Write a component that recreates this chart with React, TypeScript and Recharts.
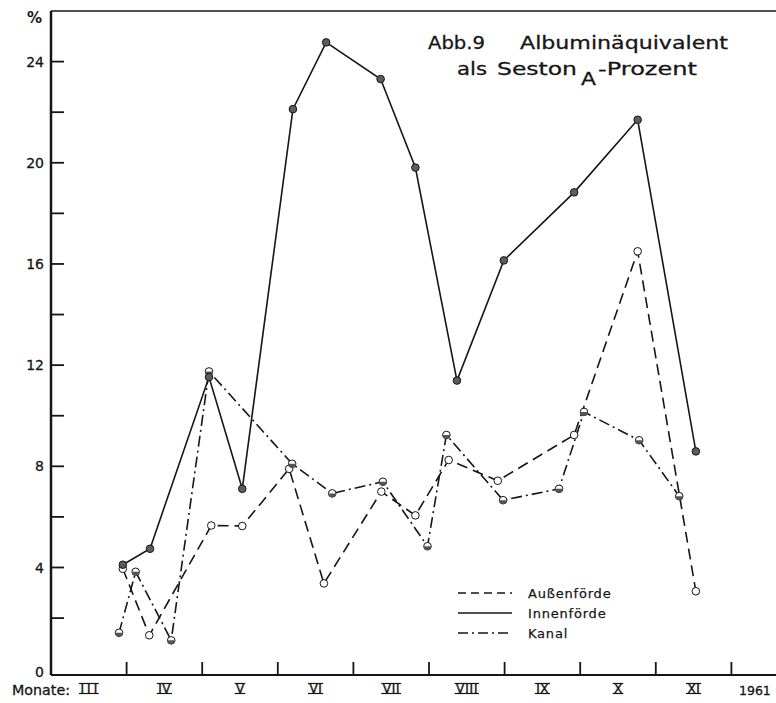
import React from 'react';
import { LineChart, Line, XAxis, YAxis, ReferenceLine, Legend } from 'recharts';

// Month labels (Roman numerals) along the time axis, March to November
const monthLabels = ['III', 'IV', 'V', 'VI', 'VII', 'VIII', 'IX', 'X', 'XI'];
const yearLabel = '1961';

// Value axis ticks (every 2 %), labelled every 4 %
const yTickValues = [0, 2, 4, 6, 8, 10, 12, 14, 16, 18, 20, 22, 24];

// Sampling dates, in months counted from 1 March, and values in %
const aussenX = [0.95, 1.3, 2.12, 2.53, 3.15, 3.61, 4.37, 4.82, 5.26, 5.91, 6.92, 7.76, 8.53];
const aussenY = [3.95, 1.32, 5.66, 5.64, 7.9, 3.37, 7.0, 6.06, 8.25, 7.43, 9.24, 16.5, 3.06];

const innenX = [0.95, 1.31, 2.09, 2.53, 3.2, 3.64, 4.36, 4.82, 5.37, 5.99, 6.92, 7.76, 8.53];
const innenY = [4.11, 4.74, 11.53, 7.11, 22.12, 24.76, 23.31, 19.81, 11.39, 16.14, 18.83, 21.7, 8.59];

const kanalX = [0.9, 1.12, 1.59, 2.09, 3.19, 3.72, 4.39, 4.98, 5.23, 5.98, 6.72, 7.05, 7.78, 8.31];
const kanalY = [1.42, 3.83, 1.12, 11.75, 8.1, 6.93, 7.39, 4.84, 9.24, 6.66, 7.11, 10.15, 9.03, 6.82];

const zip = (xs: number[], ys: number[]) => xs.map((x, i) => ({ x, y: ys[i] }));
const aussen = zip(aussenX, aussenY);
const innen = zip(innenX, innenY);
const kanal = zip(kanalX, kanalY);

const monthBoundaries = monthLabels.map((_, i) => i + 1);
const monthCenters = monthLabels.map((_, i) => i + 0.5);
const xTicks = [...monthCenters, ...monthBoundaries].sort((a, b) => a - b);

const INK = '#161616';
const FONT = '"DejaVu Sans", "Liberation Sans", sans-serif';

const styles = {
  aussen: { dash: '11 6', legendDash: '8 5', name: 'Außenförde' },
  innen: { dash: undefined as string | undefined, legendDash: undefined as string | undefined, name: 'Innenförde' },
  kanal: { dash: '11 4 2 4', legendDash: '10 4 2 4', name: 'Kanal' },
};

const ValueTick = (props: any) => {
  const { x, y, payload } = props;
  const v = payload.value as number;
  return (
    <g>
      {v !== 0 && <line x1={x} x2={x + 13} y1={y} y2={y} stroke={INK} strokeWidth={1.8} />}
      {v % 4 === 0 && (
        <text
          x={x - 7}
          y={v === 0 ? y + 3 : y}
          dy="0.36em"
          textAnchor="end"
          fontFamily={FONT}
          fontSize={14}
          fill={INK}
          stroke={INK}
          strokeWidth={0.3}
        >
          {v}
        </text>
      )}
    </g>
  );
};

const MonthTick = (props: any) => {
  const { x, y, payload } = props;
  const v = payload.value as number;
  if (Number.isInteger(v)) {
    return <line x1={x} x2={x} y1={y} y2={y - 13} stroke={INK} strokeWidth={1.8} />;
  }
  const label = monthLabels[Math.floor(v)];
  const w = 6 + 4.6 * label.length;
  return (
    <g>
      <line x1={x - w / 2} x2={x + w / 2} y1={y + 8.5} y2={y + 8.5} stroke={INK} strokeWidth={1.2} />
      <text
        x={x}
        y={y + 17.8}
        textAnchor="middle"
        fontFamily={FONT}
        fontSize={12}
        fill={INK}
        stroke={INK}
        strokeWidth={0.4}
        textLength={w - 3}
        lengthAdjust="spacing"
      >
        {label}
      </text>
      <line x1={x - w / 2} x2={x + w / 2} y1={y + 18.5} y2={y + 18.5} stroke={INK} strokeWidth={1.2} />
    </g>
  );
};

const makeDot = (kind: 'aussen' | 'innen' | 'kanal') => (props: any) => {
  const { cx, cy, index } = props;
  const r = 3.8;
  if (cx == null || cy == null) return <g key={`${kind}-${index}`} />;
  if (kind === 'kanal') {
    return (
      <g key={`${kind}-${index}`}>
        <circle cx={cx} cy={cy} r={r} fill="#fff" stroke={INK} strokeWidth={1} />
        <path d={`M${cx - r},${cy} A${r},${r} 0 0 0 ${cx + r},${cy} Z`} fill="#555" />
      </g>
    );
  }
  return (
    <circle
      key={`${kind}-${index}`}
      cx={cx}
      cy={cy}
      r={r}
      fill={kind === 'innen' ? '#5c5c5c' : '#fff'}
      stroke={INK}
      strokeWidth={1}
    />
  );
};

const LegendBox = () => {
  const rows = [styles.aussen, styles.innen, styles.kanal];
  return (
    <svg width={180} height={60} style={{ display: 'block' }}>
      {rows.map((s, i) => (
        <g key={s.name}>
          <line
            x1={3}
            x2={57}
            y1={10 + i * 20}
            y2={10 + i * 20}
            stroke={INK}
            strokeWidth={1.4}
            strokeDasharray={s.legendDash}
          />
          <text
            x={73}
            y={10 + i * 20}
            dy="0.36em"
            fontFamily={FONT}
            fontSize={13}
            letterSpacing={0.8}
            fill={INK}
            stroke={INK}
            strokeWidth={0.25}
          >
            {s.name}
          </text>
        </g>
      ))}
    </svg>
  );
};

export default function App() {
  return (
    <div
      style={{
        position: 'absolute',
        left: 0,
        top: 0,
        width: 776,
        height: 703,
        background: '#fff',
        fontFamily: FONT,
      }}
    >
      <LineChart width={776} height={703} margin={{ top: 11, right: 0, bottom: 0, left: 0 }}>
        <XAxis
          type="number"
          dataKey="x"
          domain={[0, 9.59]}
          ticks={xTicks}
          interval={0}
          tick={<MonthTick />}
          tickLine={false}
          tickSize={0}
          tickMargin={0}
          height={28}
          allowDataOverflow
          axisLine={{ stroke: INK, strokeWidth: 2 }}
        />
        <YAxis
          type="number"
          domain={[-0.25, 26]}
          ticks={yTickValues}
          interval={0}
          tick={<ValueTick />}
          tickLine={false}
          tickSize={0}
          tickMargin={0}
          width={51}
          allowDataOverflow
          axisLine={{ stroke: INK, strokeWidth: 2.5 }}
        />
        <ReferenceLine y={26} stroke={INK} strokeWidth={1.6} />
        <Legend
          layout="vertical"
          align="center"
          verticalAlign="middle"
          content={<LegendBox />}
          wrapperStyle={{ left: 455, top: 583, width: 180, height: 60 }}
        />
        <Line
          data={aussen}
          dataKey="y"
          name={styles.aussen.name}
          stroke={INK}
          strokeWidth={1.6}
          strokeDasharray={styles.aussen.dash}
          dot={makeDot('aussen')}
          isAnimationActive={false}
        />
        <Line
          data={kanal}
          dataKey="y"
          name={styles.kanal.name}
          stroke={INK}
          strokeWidth={1.6}
          strokeDasharray={styles.kanal.dash}
          dot={makeDot('kanal')}
          isAnimationActive={false}
        />
        <Line
          data={innen}
          dataKey="y"
          name={styles.innen.name}
          stroke={INK}
          strokeWidth={1.6}
          dot={makeDot('innen')}
          isAnimationActive={false}
        />
      </LineChart>
      <svg
        width={776}
        height={703}
        style={{ position: 'absolute', left: 0, top: 0, pointerEvents: 'none' }}
      >
        <text x={27} y={23} fontFamily={FONT} fontSize={15} fontWeight="bold" fill={INK}>
          %
        </text>
        <g fontFamily={FONT} fontSize={18} fill={INK} stroke={INK} strokeWidth={0.3}>
          <text x={428} y={49} textLength={57} lengthAdjust="spacingAndGlyphs">
            Abb.9
          </text>
          <text x={520} y={49} textLength={208} lengthAdjust="spacingAndGlyphs">
            Albuminäquivalent
          </text>
          <text x={457} y={75} textLength={30} lengthAdjust="spacingAndGlyphs">
            als
          </text>
          <text x={497} y={75} textLength={80} lengthAdjust="spacingAndGlyphs">
            Seston
          </text>
          <text x={581} y={85} textLength={15} lengthAdjust="spacingAndGlyphs">
            A
          </text>
          <text x={598} y={75} textLength={99} lengthAdjust="spacingAndGlyphs">
            -Prozent
          </text>
        </g>
        <text
          x={12}
          y={695}
          fontFamily={FONT}
          fontSize={14}
          textLength={58}
          lengthAdjust="spacingAndGlyphs"
          fill={INK}
          stroke={INK}
          strokeWidth={0.3}
        >
          Monate:
        </text>
        <text
          x={739}
          y={695}
          fontFamily={FONT}
          fontSize={12.5}
          fill={INK}
          stroke={INK}
          strokeWidth={0.3}
        >
          {yearLabel}
        </text>
      </svg>
    </div>
  );
}
